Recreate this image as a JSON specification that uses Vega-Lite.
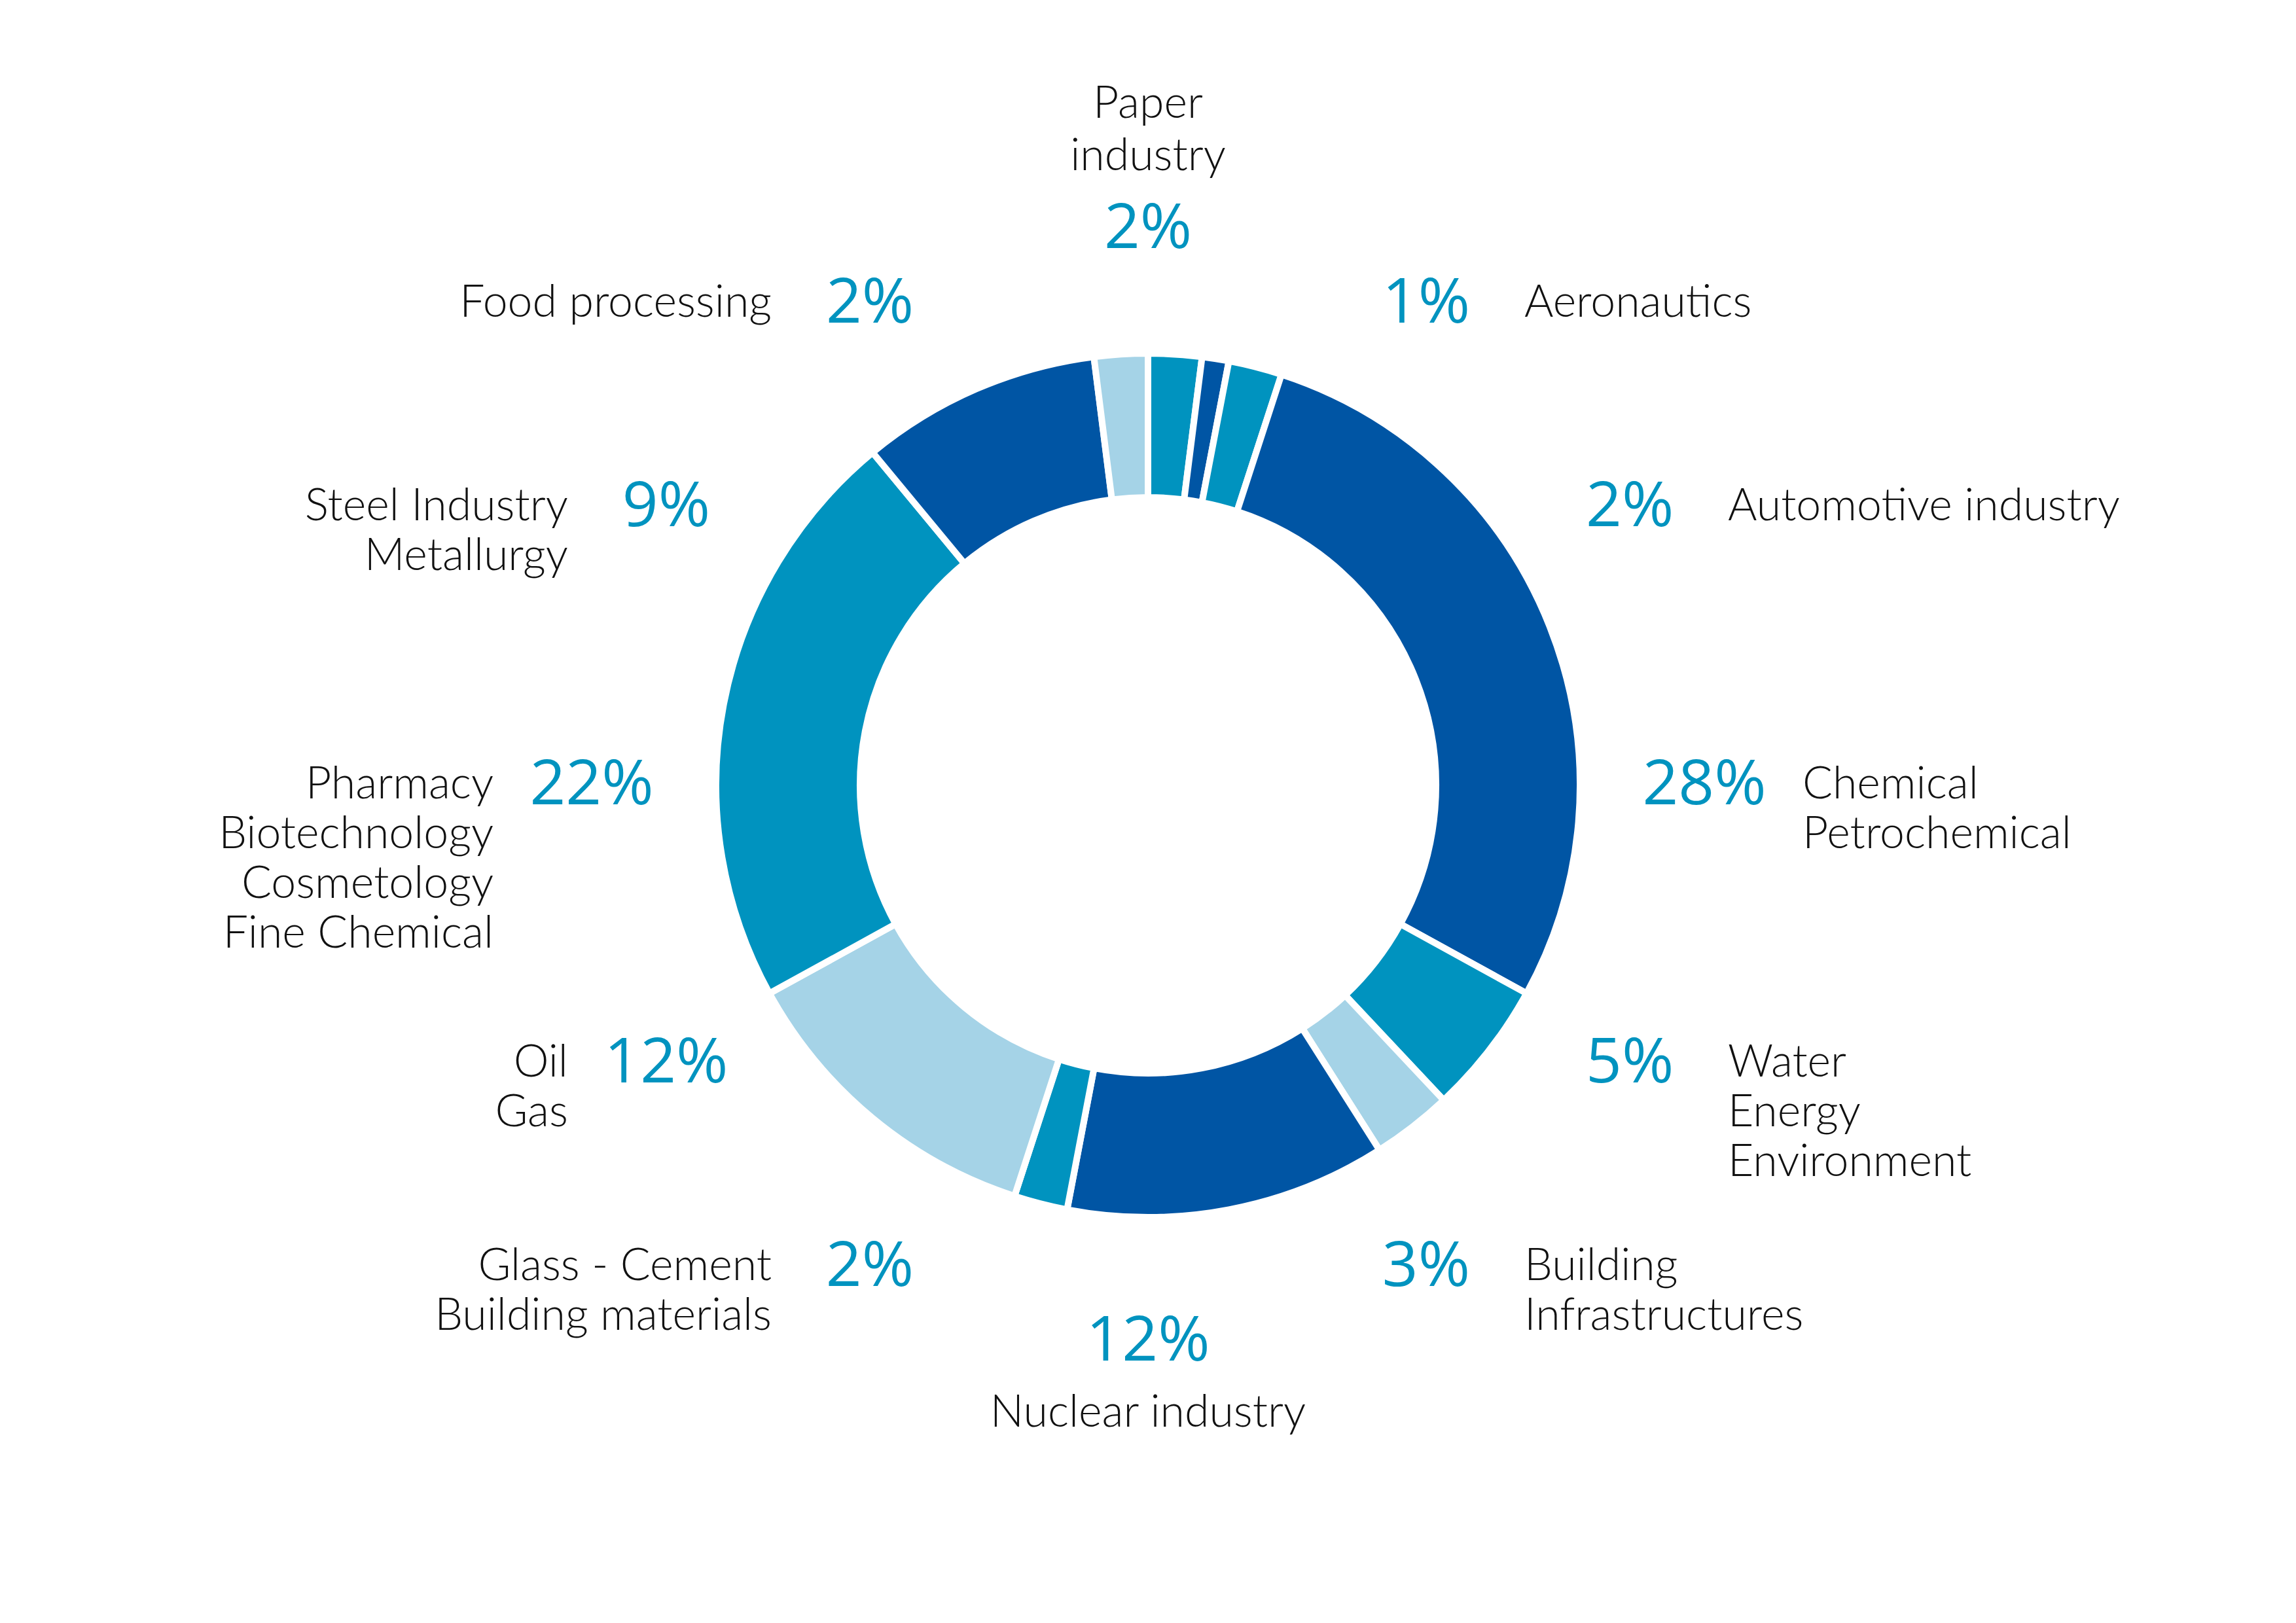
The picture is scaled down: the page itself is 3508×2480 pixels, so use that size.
{
  "$schema": "https://vega.github.io/schema/vega-lite/v6.json",
  "width": 3508,
  "height": 2400,
  "padding": 0,
  "autosize": {"type": "none"},
  "background": "white",
  "config": {"view": {"stroke": null}},
  "data": {
    "values": [
      {"idx": 1, "sector": "Paper\nindustry", "share": 0.02},
      {"idx": 2, "sector": "Aeronautics", "share": 0.01},
      {"idx": 3, "sector": "Automotive industry", "share": 0.02},
      {"idx": 4, "sector": "Chemical\nPetrochemical", "share": 0.28},
      {"idx": 5, "sector": "Water\nEnergy\nEnvironment", "share": 0.05},
      {"idx": 6, "sector": "Building\nInfrastructures", "share": 0.03},
      {"idx": 7, "sector": "Nuclear industry", "share": 0.12},
      {"idx": 8, "sector": "Glass - Cement\nBuilding materials", "share": 0.02},
      {"idx": 9, "sector": "Oil\nGas", "share": 0.12},
      {"idx": 10, "sector": "Pharmacy\nBiotechnology\nCosmetology\nFine Chemical", "share": 0.22},
      {"idx": 11, "sector": "Steel Industry\nMetallurgy", "share": 0.09},
      {"idx": 12, "sector": "Food processing", "share": 0.02}
    ]
  },
  "layer": [
    {
      "mark": {"type": "arc", "outerRadius": 660, "innerRadius": 440, "stroke": "white", "strokeWidth": 10},
      "encoding": {
        "theta": {"field": "share", "type": "quantitative", "stack": true},
        "order": {"field": "idx", "type": "quantitative"},
        "color": {
          "field": "sector",
          "type": "nominal",
          "legend": null,
          "scale": {
            "domain": ["Paper\nindustry", "Aeronautics", "Automotive industry", "Chemical\nPetrochemical", "Water\nEnergy\nEnvironment", "Building\nInfrastructures", "Nuclear industry", "Glass - Cement\nBuilding materials", "Oil\nGas", "Pharmacy\nBiotechnology\nCosmetology\nFine Chemical", "Steel Industry\nMetallurgy", "Food processing"],
            "range": ["#0093bf", "#0055a4", "#0093bf", "#0055a4", "#0093bf", "#a5d3e7", "#0055a4", "#0093bf", "#a5d3e7", "#0093bf", "#0055a4", "#a5d3e7"]
          }
        }
      }
    },
    {
      "mark": {"type": "text", "radius": 850, "font": "Open Sans", "fontSize": 96, "color": "#0093bf", "align": "center", "baseline": "middle"},
      "encoding": {
        "theta": {"field": "idx", "type": "quantitative", "stack": false, "scale": {"domain": [0.5, 12.5], "range": [-0.261799, 6.021386], "nice": false, "zero": false}},
        "text": {"field": "share", "type": "quantitative", "format": ".0%"}
      }
    },
    {
      "transform": [{"filter": "datum.idx >= 2 && datum.idx <= 6"}],
      "mark": {"type": "text", "radius": 850, "dx": 150, "font": "Lato", "fontWeight": 300, "fontSize": 68, "lineHeight": 76, "lineBreak": "\n", "color": "#111111", "align": "left", "baseline": "middle"},
      "encoding": {
        "theta": {"field": "idx", "type": "quantitative", "stack": false, "scale": {"domain": [0.5, 12.5], "range": [-0.261799, 6.021386], "nice": false, "zero": false}},
        "text": {"field": "sector", "type": "nominal"}
      }
    },
    {
      "transform": [{"filter": "datum.idx >= 8"}],
      "mark": {"type": "text", "radius": 850, "dx": -150, "font": "Lato", "fontWeight": 300, "fontSize": 68, "lineHeight": 76, "lineBreak": "\n", "color": "#111111", "align": "right", "baseline": "middle"},
      "encoding": {
        "theta": {"field": "idx", "type": "quantitative", "stack": false, "scale": {"domain": [0.5, 12.5], "range": [-0.261799, 6.021386], "nice": false, "zero": false}},
        "text": {"field": "sector", "type": "nominal"}
      }
    },
    {
      "transform": [{"filter": "datum.idx == 1"}],
      "mark": {"type": "text", "radius": 850, "dy": -190, "font": "Lato", "fontWeight": 300, "fontSize": 68, "lineHeight": 80, "lineBreak": "\n", "color": "#111111", "align": "center", "baseline": "middle"},
      "encoding": {
        "theta": {"field": "idx", "type": "quantitative", "stack": false, "scale": {"domain": [0.5, 12.5], "range": [-0.261799, 6.021386], "nice": false, "zero": false}},
        "text": {"field": "sector", "type": "nominal"}
      }
    },
    {
      "transform": [{"filter": "datum.idx == 7"}],
      "mark": {"type": "text", "radius": 850, "dy": 110, "font": "Lato", "fontWeight": 300, "fontSize": 68, "lineHeight": 76, "lineBreak": "\n", "color": "#111111", "align": "center", "baseline": "middle"},
      "encoding": {
        "theta": {"field": "idx", "type": "quantitative", "stack": false, "scale": {"domain": [0.5, 12.5], "range": [-0.261799, 6.021386], "nice": false, "zero": false}},
        "text": {"field": "sector", "type": "nominal"}
      }
    }
  ],
  "resolve": {"scale": {"theta": "independent"}}
}
